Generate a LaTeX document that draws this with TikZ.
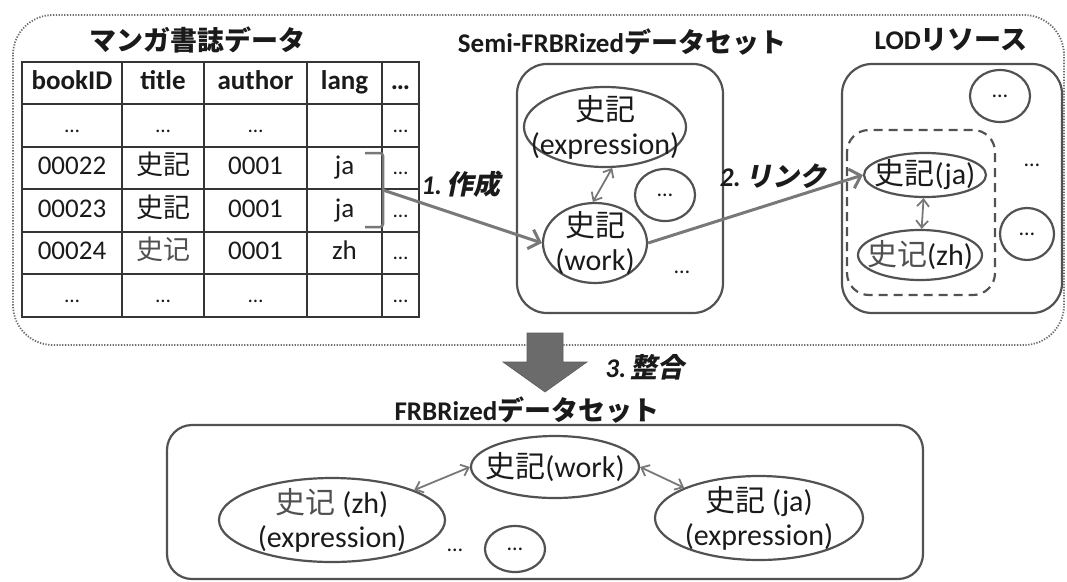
\documentclass[tikz,border=0pt]{standalone}
\usepackage{fontspec}
\setmainfont{Carlito}
\newfontfamily\jpf{Noto Sans CJK JP}
\newfontfamily\zhf{Noto Sans CJK SC}
\newfontfamily\jpsl[FakeSlant=0.2]{Noto Sans CJK JP}
\usetikzlibrary{shapes.geometric,arrows.meta}
\newcommand\J[1]{{\jpf #1}}
\newcommand\Z[1]{{\zhf\color{zhc}#1}}
\definecolor{ln}{HTML}{525252}
\definecolor{tl}{HTML}{353535}
\definecolor{arc}{HTML}{787878}
\definecolor{tx}{HTML}{1a1a1a}
\definecolor{zhc}{HTML}{505050}
\definecolor{bigc}{HTML}{6b6b6b}
\definecolor{dotc}{HTML}{6e6e6e}
\begin{document}
\begin{tikzpicture}[x=1pt,y=-1pt,
  outerbox/.style={draw=dotc, line width=1.8pt, dash pattern=on 1.3pt off 1.5pt, rounded corners=40pt},
  boxx/.style={draw=ln, line width=2.2pt, rounded corners=30pt, inner sep=0pt},
  dbox/.style={draw=ln, line width=2.2pt, dash pattern=on 9pt off 6pt, rounded corners=22pt},
  ell/.style={ellipse, draw=ln, line width=2.2pt, inner sep=0pt},
  lbl/.style={font=\fontsize{30}{34}\selectfont, align=center, text=tx, inner sep=0pt},
  dots/.style={font=\fontsize{22}{26}\selectfont, text=tx, inner sep=0pt},
  ttl/.style={font=\fontsize{27}{32}\selectfont\bfseries, text=tx, inner sep=0pt},
  cell/.style={font=\fontsize{27}{31}\selectfont, text=tx, inner sep=0pt, text height=18pt, text depth=5pt},
  hcell/.style={cell, font=\fontsize{27}{31}\selectfont\bfseries},
  dcell/.style={cell, font=\fontsize{21}{25}\selectfont},
  steplbl/.style={font=\fontsize{27}{32}\selectfont\bfseries\itshape, text=tx, inner sep=0pt},
  flow/.style={draw=arc, line width=3pt, -{Straight Barb[length=10pt,width=20pt,line width=3pt]}},
  dbl/.style={draw=arc, line width=1.8pt, {Straight Barb[length=7pt,width=12pt]}-{Straight Barb[length=7pt,width=12pt]}},
  tline/.style={draw=tl, line width=2pt}
]
\useasboundingbox (0,0) rectangle (1067,581);

% outer dotted frame
\draw[outerbox] (13,15) rectangle (1064,345);

% titles
\node[ttl] (t1) at (197,40) {\J{マンガ書誌データ}};
\node[ttl] (t2) at (622,42) {Semi-FRBRized\J{データセット}};
\node[ttl] (t3) at (951,40) {LOD\J{リソース}};
\node[ttl] (t4) at (527,410) {FRBRized\J{データセット}};

% table
\draw[tline] (22,62) rectangle (419,317);
\foreach \xx in {122,204,307,382} \draw[tline] (\xx,62) -- (\xx,317);
\foreach \yy in {104,147,189,232,274} \draw[tline] (22,\yy) -- (419,\yy);

\node[hcell] (h1) at (72,83) {bookID};
\node[hcell] (h2) at (163,83) {title};
\node[hcell] (h3) at (255.5,83) {author};
\node[hcell] (h4) at (344.5,83) {lang};
\node[hcell] (h5) at (400.5,83) {…};

\node[dcell] (a1) at (72,125.5) {…};
\node[dcell] (a2) at (163,125.5) {…};
\node[dcell] (a3) at (255.5,125.5) {…};
\node[dcell] (a5) at (400.5,125.5) {…};

\node[cell] (b1) at (72,168) {00022};
\node[cell] (b2) at (163,168) {\J{史記}};
\node[cell] (b3) at (255.5,168) {0001};
\node[cell] (b4) at (344.5,168) {ja};
\node[dcell] (b5) at (400.5,168) {…};

\node[cell] (c1) at (72,210.5) {00023};
\node[cell] (c2) at (163,210.5) {\J{史記}};
\node[cell] (c3) at (255.5,210.5) {0001};
\node[cell] (c4) at (344.5,210.5) {ja};
\node[dcell] (c5) at (400.5,210.5) {…};

\node[cell] (d1) at (72,253) {00024};
\node[cell] (d2) at (163,253) {\Z{史记}};
\node[cell] (d3) at (255.5,253) {0001};
\node[cell] (d4) at (344.5,253) {zh};
\node[dcell] (d5) at (400.5,253) {…};

\node[dcell] (e1) at (72,295.5) {…};
\node[dcell] (e2) at (163,295.5) {…};
\node[dcell] (e3) at (255.5,295.5) {…};
\node[dcell] (e5) at (400.5,295.5) {…};

% bracket
\draw[draw=arc, line width=2.5pt, rounded corners=3pt] (365,153) -- (383,153) -- (383,227) -- (365,227);
\coordinate (bm) at (383,190);

% Semi-FRBRized box
\node[boxx, minimum width=206, minimum height=249] (semi) at (620,188.5) {};
\node[ell, minimum width=162, minimum height=80,
  label={[lbl]center:{\J{史記}\\(expression)}}] (sexpr) at (605,127) {};
\node[ell, minimum width=104, minimum height=80,
  label={[lbl]center:{\J{史記}\\(work)}}] (swork) at (595,243) {};
\node[ell, minimum width=60, minimum height=52, label={[dots]center:…}] (scirc) at (665,195) {};
\node[dots] (sdots) at (682,272) {…};

% LOD box
\node[boxx, minimum width=220, minimum height=249] (lod) at (952,188.5) {};
\draw[dbox] (847,130) rectangle (995,295);
\node[ell, minimum width=60, minimum height=52, label={[dots]center:…}] (lc1) at (1000,96) {};
\node[ell, minimum width=122, minimum height=44,
  label={[lbl]center:{\J{史記}(ja)}}] (lja) at (925,175) {};
\node[ell, minimum width=124, minimum height=50,
  label={[lbl]center:{\Z{史记}(zh)}}] (lzh) at (920,255) {};
\node[ell, minimum width=54, minimum height=52, label={[dots]center:…}] (lc2) at (1027,234) {};
\node[dots] (ldots) at (1032,165) {…};

% arrows top
\draw[dbl] (sexpr.-80) -- (swork.93);
\draw[dbl] (lja) -- (lzh);
\draw[flow] (bm) -- (swork.west);
\draw[flow] (swork.east) -- (lja.west);
\node[steplbl] (s1) at (461,184) {1.\,\J{\jpsl 作成}};
\node[steplbl] (s2) at (773,176) {2.\,\J{\jpsl リンク}};

% big arrow
\fill[bigc, draw=bigc!85!black, line width=0.6pt] (527,333) -- (563,333) -- (563,362) -- (587,362) -- (545,392) -- (503,362) -- (527,362) -- cycle;
\node[steplbl] (s3) at (645,367) {3.\,\J{\jpsl 整合}};

% bottom box
\draw[boxx, rounded corners=25pt] (167,425) rectangle (923,579);
\node[ell, minimum width=168, minimum height=62,
  label={[lbl]center:{\J{史記}(work)}}] (bwork) at (555,467) {};
\node[ell, minimum width=226, minimum height=84,
  label={[lbl]center:{\Z{史记} (zh)\\(expression)}}] (bzh) at (332,520) {};
\node[ell, minimum width=208, minimum height=84,
  label={[lbl]center:{\J{史記} (ja)\\(expression)}}] (bja) at (759,518) {};
\node[ell, minimum width=60, minimum height=46, label={[dots]center:…}] (bcirc) at (515,549) {};
\node[dots] (bdots) at (455,550) {…};
\draw[dbl] (bwork.west) -- (bzh.20);
\draw[dbl] (bwork.east) -- (bja.158);
\end{tikzpicture}
\end{document}
